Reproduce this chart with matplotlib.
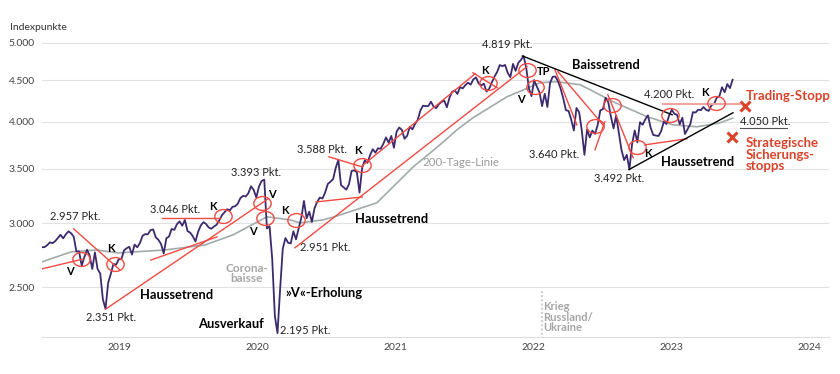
import pandas as pd
import matplotlib.pyplot as plt
from matplotlib.markers import MarkerStyle
from matplotlib.transforms import Affine2D

plt.rcParams["font.family"] = ["Lato", "DejaVu Sans"]

# weekly closes (Fridays)
p2018 = [2801, 2802, 2818, 2840, 2833, 2850, 2875, 2902, 2872, 2905, 2930, 2914,
         2885, 2767, 2768, 2658, 2723, 2781, 2736, 2633, 2760, 2633, 2600, 2417, 2351]
p2019 = [2532, 2596, 2671, 2665, 2707, 2708, 2776, 2793, 2804, 2743, 2822, 2800, 2834,
         2893, 2907, 2905, 2940, 2946, 2881, 2860, 2826, 2752, 2873, 2887, 2950, 2942,
         2990, 3014, 2977, 3026, 2932, 2919, 2889, 2847, 2926, 2979, 3007, 2992, 2962,
         2952, 2970, 2986, 3023, 3067, 3093, 3120, 3110, 3141, 3146, 3169, 3221, 3240]
p2020 = [3235, 3265, 3330, 3295, 3226, 3328, 3380, 3393, 2954, 2972, 2711, 2305, 2195,
         2489, 2790, 2875, 2837, 2831, 2930, 2864, 2955, 3044, 3194, 3041, 3098, 3009,
         3130, 3185, 3225, 3216, 3271, 3351, 3373, 3397, 3508, 3588, 3341, 3319, 3298,
         3348, 3477, 3484, 3465, 3270, 3510, 3585, 3558, 3638, 3699, 3663, 3709, 3703]
p2021 = [3756, 3825, 3768, 3841, 3714, 3887, 3934, 3907, 3811, 3842, 3943, 3913, 3975,
         4020, 4129, 4185, 4180, 4181, 4233, 4174, 4156, 4204, 4230, 4247, 4166, 4281,
         4352, 4370, 4327, 4412, 4395, 4437, 4468, 4442, 4509, 4535, 4459, 4433, 4455,
         4357, 4391, 4471, 4545, 4605, 4697, 4682, 4698, 4595, 4538, 4712, 4620, 4726, 4766]
p2022 = [4819, 4662, 4398, 4300, 4500, 4419, 4349, 4180, 4329, 4170, 4463, 4543, 4546,
         4488, 4393, 4272, 4132, 4123, 4024, 3901, 4158, 4109, 3901, 3640, 3912, 3825,
         3899, 3863, 3962, 4130, 4145, 4280, 4228, 4058, 3924, 4068, 3873, 3693, 3586,
         3640, 3492, 3752, 3901, 3771, 3993, 3965, 4026, 4072, 3934, 3852, 3845, 3840]
p2023 = [3895, 3999, 3973, 4070, 4136, 4090, 4079, 3970, 4045, 3862, 3917, 3971, 4109,
         4105, 4138, 4133, 4169, 4136, 4124, 4192, 4205, 4282, 4299, 4410, 4348, 4450,
         4399, 4505]
year_starts = ["2018-07-13", "2019-01-04", "2020-01-03", "2021-01-01", "2022-01-07", "2023-01-06"]

# 200-Tage-Linie
ma_dates = ["2018-07-13", "2018-09-28", "2018-12-03", "2019-01-30", "2019-06-03", "2019-09-17",
            "2019-11-30", "2020-02-28", "2020-04-29", "2020-05-26", "2020-07-25", "2020-08-24",
            "2020-12-15", "2021-03-21", "2021-05-31", "2021-07-15", "2021-08-26", "2021-11-24",
            "2022-02-20", "2022-04-05", "2022-06-05", "2022-07-02", "2022-09-01", "2022-11-30",
            "2023-02-06", "2023-04-11", "2023-06-11", "2023-07-14"]
ma_values = [2687, 2764, 2779, 2756, 2779, 2819, 2900, 3053, 3027, 3001, 3027, 3053,
             3177, 3518, 3746, 3909, 4044, 4292, 4467, 4480, 4442, 4379, 4232, 4056,
             3964, 3942, 3987, 4040]

# red trend lines: (start date, start value, end date, end value)
red_lines = [
    ("2018-07-13", 2634, "2018-10-30", 2709),
    ("2018-10-05", 2950, "2019-02-04", 2626),
    ("2019-04-27", 2701, "2019-10-19", 2884),
    ("2018-12-29", 2351, "2020-03-02", 3213),
    ("2019-05-26", 3044, "2019-10-27", 3044),
    ("2020-05-12", 2796, "2022-01-16", 4675),
    ("2020-11-06", 3529, "2021-09-01", 4582),
    ("2021-08-26", 4595, "2021-10-29", 4403),
    ("2020-08-10", 3620, "2020-11-06", 3518),
    ("2020-07-07", 3185, "2020-11-06", 3230),
    ("2022-03-31", 4635, "2022-05-28", 3964),
    ("2022-04-08", 4609, "2022-08-05", 3964),
    ("2022-07-15", 3693, "2022-08-10", 3998),
    ("2022-08-18", 4317, "2022-10-24", 3610),
    ("2022-11-24", 3745, "2023-03-15", 3810),
]
black_lines = [
    ("2022-01-04", 4819, "2023-02-04", 4079),
    ("2022-10-13", 3492, "2023-07-15", 4102),
]
stop_line = ("2023-01-11", "2023-08-03", 4200)

circle_dates = ["2018-10-24", "2019-01-22", "2019-11-04", "2020-02-15", "2020-02-23", "2020-05-15",
                "2020-11-06", "2021-10-05", "2022-01-16", "2022-02-06", "2022-07-15", "2022-08-29",
                "2022-11-03", "2023-01-29", "2023-05-31"]
circle_values = [2709, 2671, 3062, 3177, 3044, 3027, 3538, 4467, 4635, 4416, 3953, 4196,
                 3724, 4079, 4220]

signals = [("V", "2018-09-25", 2611), ("K", "2019-01-12", 2788), ("K", "2019-10-08", 3141),
           ("V", "2020-03-13", 3250), ("V", "2020-01-22", 2925), ("K", "2020-04-16", 3105),
           ("K", "2020-10-26", 3682), ("K", "2021-09-27", 4622), ("TP", "2022-03-02", 4609),
           ("V", "2021-12-31", 4256), ("K", "2022-12-02", 3651), ("K", "2023-05-02", 4342)]

points = [("2.957 Pkt.", "2018-10-10", 3053), ("2.351 Pkt.", "2019-01-12", 2297),
          ("3.046 Pkt.", "2019-06-30", 3114), ("3.393 Pkt.", "2020-01-29", 3459),
          ("2.951 Pkt.", "2020-07-31", 2796), ("3.588 Pkt.", "2020-07-23", 3693),
          ("4.819 Pkt.", "2021-11-24", 4976), ("3.640 Pkt.", "2022-03-29", 3641),
          ("3.492 Pkt.", "2022-09-16", 3401), ("4.200 Pkt.", "2023-01-27", 4317)]

bold_labels = [("Haussetrend", "2019-07-05", 2446), ("Ausverkauf", "2019-11-25", 2253),
               ("»V«-Erholung", "2020-07-28", 2460), ("Haussetrend", "2021-01-24", 3035),
               ("Baissetrend", "2022-08-13", 4701), ("Haussetrend", "2023-04-11", 3569)]

stop_marks_dates = ["2023-08-16", "2023-07-12"]
stop_marks_values = [4184, 3831]

years = [2019, 2020, 2021, 2022, 2023, 2024]
yticks = [2500, 3000, 3500, 4000, 4500, 5000]

purple = "#3d2a6e"
red = "#f04a42"
txt_red = "#d9442b"
grey_txt = "#a6a6a6"

fig = plt.figure(figsize=(8.4, 3.74), dpi=100)
ax = fig.add_axes([42 / 840, 1 - 337 / 374, 787 / 840, 298 / 374])

price = pd.concat([
    pd.Series(vals, index=pd.date_range(start, periods=len(vals), freq="W-FRI"))
    for start, vals in zip(year_starts, [p2018, p2019, p2020, p2021, p2022, p2023])
])

ax.plot(pd.to_datetime(ma_dates), ma_values, color="#a2abab", lw=1.2, zorder=2)
ax.plot(price.index, price.values, color=purple, lw=1.3, zorder=3)

for d0, v0, d1, v1 in red_lines:
    ax.plot(pd.to_datetime([d0, d1]), [v0, v1], color=red, lw=1.0, zorder=4)
for d0, v0, d1, v1 in black_lines:
    ax.plot(pd.to_datetime([d0, d1]), [v0, v1], color="black", lw=1.0, zorder=4)
ax.plot(pd.to_datetime(stop_line[:2]), [stop_line[2]] * 2, color="#f5a3a0", lw=1.5, zorder=4)

ell = MarkerStyle("o", transform=Affine2D().scale(1.25, 1.0))
ax.plot(pd.to_datetime(circle_dates), circle_values, ls="none", marker=ell, ms=10,
        mfc="none", mec=red, mew=1.0, zorder=5)

for s, d, v in signals:
    ax.text(pd.Timestamp(d), v, s, fontsize=8, fontweight="bold", ha="center", va="center", zorder=6)
for s, d, v in points:
    ax.text(pd.Timestamp(d), v, s, fontsize=8, color="#222222", ha="center", va="center", zorder=6)
for s, d, v in bold_labels:
    ax.text(pd.Timestamp(d), v, s, fontsize=9.3, fontweight="bold", ha="center", va="center", zorder=6)

ax.text(pd.Timestamp("2020-04-03"), 2214, "2.195 Pkt.", fontsize=8, color="#222222", va="center")
ax.text(pd.Timestamp("2020-01-06"), 2600, "Corona-\nbaisse", fontsize=8.5, fontweight="bold",
        color=grey_txt, ha="center", va="center", linespacing=0.95)
ax.text(pd.Timestamp("2021-07-26"), 3559, "200-Tage-Linie", fontsize=8.3, color="#9a9a9a",
        ha="center", va="center")
ax.text(pd.Timestamp("2022-03-01"), 2297, "Krieg\nRussland/\nUkraine", fontsize=8, fontweight="bold",
        color=grey_txt, ha="left", va="center", linespacing=0.95)
ax.plot(pd.to_datetime(["2022-02-24", "2022-02-24"]), [2474, 2171], color="#d0d0d0", lw=1.5,
        ls=(0, (1, 1)), zorder=1)

ax.text(pd.Timestamp("2023-08-03"), 3999, "4.050 Pkt.", fontsize=8, color="#222222", va="center")
ax.plot(pd.to_datetime(["2023-08-03", "2023-12-05"]), [3931, 3931], color="#555555", lw=0.8)
ax.text(pd.Timestamp("2023-08-18"), 4305, "Trading-Stopp", fontsize=9.5, fontweight="bold",
        color=txt_red, va="center")
ax.text(pd.Timestamp("2023-08-17"), 3641, "Strategische\nSicherungs-\nstopps", fontsize=9.5,
        fontweight="bold", color=txt_red, va="center", linespacing=0.95)
ax.plot(pd.to_datetime(stop_marks_dates), stop_marks_values, ls="none", marker="x", ms=6.5,
        mew=2.2, color=txt_red)

ax.set_yscale("log")
ax.set_ylim(2171, 5057)
ax.set_xlim(pd.Timestamp("2018-07-13"), pd.Timestamp("2024-03-25"))
ax.set_yticks(yticks)
ax.set_yticklabels([f"{v:,}".replace(",", ".") for v in yticks])
ax.yaxis.set_minor_locator(plt.NullLocator())
ax.set_xticks(pd.to_datetime([f"{y}-01-01" for y in years]))
ax.set_xticklabels([str(y) for y in years], ha="left")
ax.tick_params(axis="both", length=0, labelsize=7.5, colors="#444444")
ax.tick_params(axis="y", pad=5)
ax.tick_params(axis="x", pad=4)
ax.grid(axis="y", color="#e2e2e2", lw=0.8)
ax.set_axisbelow(True)
for side in ["top", "right", "left"]:
    ax.spines[side].set_visible(False)
ax.spines["bottom"].set_color("#dcdcdc")

fig.text(10 / 840, 1 - 28 / 374, "Indexpunkte", fontsize=7.5, color="#333333", va="center")

fig.savefig("out.png", dpi=100)
